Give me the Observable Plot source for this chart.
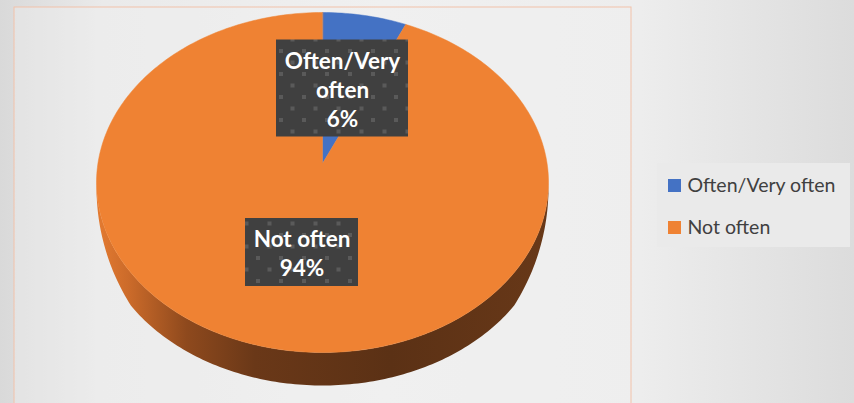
<!DOCTYPE html>
<html>
<head>
<meta charset="utf-8">
<script src="https://cdn.jsdelivr.net/npm/d3@7"></script>
<script src="https://cdn.jsdelivr.net/npm/@observablehq/plot@0.6"></script>
<style>
  html, body { margin: 0; padding: 0; background: #e6e6e6; }
  #chart { width: 854px; height: 403px; }
</style>
</head>
<body>
<svg width="0" height="0" style="position:absolute">
  <defs>
    <pattern id="dots" patternUnits="userSpaceOnUse" width="23" height="23" x="3" y="3">
      <rect width="23" height="23" fill="#404040"></rect>
      <rect x="0" y="0" width="4" height="4" fill="#5a5a5a"></rect>
      <rect x="11.5" y="11.5" width="4" height="4" fill="#5a5a5a"></rect>
    </pattern>
    <linearGradient id="sideGrad" x1="0" x2="1" y1="0" y2="0">
      <stop offset="0" stop-color="#e47b31"></stop>
      <stop offset="0.07" stop-color="#cc6b2a"></stop>
      <stop offset="0.2" stop-color="#8e491d"></stop>
      <stop offset="0.35" stop-color="#6a3818"></stop>
      <stop offset="0.65" stop-color="#5b3115"></stop>
      <stop offset="1" stop-color="#683818"></stop>
    </linearGradient>
    <filter id="blurShadow" x="-20%" y="-20%" width="140%" height="140%">
      <feGaussianBlur stdDeviation="6"></feGaussianBlur>
    </filter>
    <filter id="boxShadow" x="-20%" y="-20%" width="140%" height="140%">
      <feDropShadow dx="3" dy="3" stdDeviation="2" flood-color="#000" flood-opacity="0.45"></feDropShadow>
    </filter>
    <filter id="legendShadow" x="-10%" y="-10%" width="120%" height="120%">
      <feDropShadow dx="0" dy="0" stdDeviation="1.5" flood-color="#000" flood-opacity="0.12"></feDropShadow>
    </filter>
  </defs>
</svg>
<div id="chart"></div>
<script>
// ---- data ----
const categories = ["Often/Very often", "Not often"];
const values = [6, 94];
const colors = ["#4472c4", "#ef8233"];
const labelTexts = ["Often/Very\noften\n6%", "Not often\n94%"];

// ---- layout ----
const W = 854, H = 403;
const cx = 322, cy = 182, rx = 226, ry = 170, depth = 33;
const apex = {x: 322, y: 163};
const labelCenters = [{x: 342, y: 88, w: 132, h: 97}, {x: 301.5, y: 252, w: 113, h: 68}];
const legendBox = {x1: 657, x2: 850, y1: 163, y2: 247};
const legendItems = categories.map((c, i) => ({cat: c, color: colors[i], x: 668, y: 185 + i * 42}));

const rad = d => d * Math.PI / 180;
const pt = (deg, dy = 0, ex = 0) => ({x: cx + (rx + ex) * Math.sin(rad(deg)), y: cy - (ry + ex) * Math.cos(rad(deg)) + dy});

// slices
const total = d3.sum(values);
let acc = 0;
const slices = values.map((v, i) => {
  const a0 = acc / total * 360; acc += v; const a1 = acc / total * 360;
  const pts = [{...apex}];
  const n = Math.max(2, Math.ceil(a1 - a0));
  for (let k = 0; k <= n; k++) pts.push(pt(a0 + (a1 - a0) * k / n));
  return {cat: categories[i], color: colors[i], pts};
});

// side (lower half, visible part)
const side = [];
for (let a = 90; a <= 270; a++) side.push(pt(a));
for (let a = 270; a >= 90; a--) side.push(pt(a, depth * Math.min(1, Math.abs(Math.cos(rad(a))) * 1.6 + 0.15)));

// shadow silhouette
const shadow = [];
for (let a = -90; a <= 90; a++) shadow.push(pt(a, 4, 6));
for (let a = 90; a <= 270; a++) shadow.push(pt(a, depth + 6, 6));

const labels = labelTexts.map((t, i) => ({text: t, ...labelCenters[i]}));

const chart = Plot.plot({
  width: W, height: H, margin: 0,
  x: {domain: [0, W], range: [0, W], axis: null},
  y: {domain: [0, H], range: [0, H], axis: null},
  style: {
    background: "linear-gradient(90deg, #d9d9d9 0%, #eaeaea 12%, #f0f0f0 45%, #ededed 75%, #dcdcdc 100%)",
    fontFamily: "Lato, 'Open Sans', sans-serif"
  },
  marks: [
    Plot.rect([{x1: 14, x2: 631, y1: 7, y2: 420}], {x1: "x1", x2: "x2", y1: "y1", y2: "y2", fill: "#efefef", fillOpacity: 0.4, stroke: "#f2c2aa", strokeWidth: 1}),
    Plot.line(shadow, {x: "x", y: "y", curve: "linear-closed", fill: "#6f6f6f", fillOpacity: 0.6, stroke: "none", ariaLabel: "pie-shadow"}),
    Plot.line(side, {x: "x", y: "y", curve: "linear-closed", fill: "url(#sideGrad)", stroke: "none"}),
    ...slices.map(s => Plot.line(s.pts, {x: "x", y: "y", curve: "linear-closed", fill: s.color, stroke: s.color, strokeWidth: 0.5})),
    Plot.rect(labels, {x1: d => d.x - d.w / 2, x2: d => d.x + d.w / 2, y1: d => d.y - d.h / 2, y2: d => d.y + d.h / 2, fill: "url(#dots)", ariaLabel: "label-box"}),
    Plot.text(labels, {x: "x", y: "y", text: "text", fill: "white", fontSize: 22.5, fontWeight: "bold", lineHeight: 1.3, textAnchor: "middle"}),
    Plot.rect([legendBox], {x1: "x1", x2: "x2", y1: "y1", y2: "y2", fill: "#eaeaea", ariaLabel: "legend-box"}),
    Plot.rect(legendItems, {x1: "x", x2: d => d.x + 13, y1: d => d.y - 6, y2: d => d.y + 7, fill: "color"}),
    Plot.text(legendItems, {x: d => d.x + 19, y: "y", text: "cat", fill: "#404040", fontSize: 19.5, textAnchor: "start"})
  ]
});
document.getElementById("chart").appendChild(chart);
d3.select(chart).select('g[aria-label="pie-shadow"]').attr("filter", "url(#blurShadow)");
d3.select(chart).select('g[aria-label="label-box"]').attr("filter", "url(#boxShadow)");
d3.select(chart).select('g[aria-label="legend-box"]').attr("filter", "url(#legendShadow)");
</script>
</body>
</html>
